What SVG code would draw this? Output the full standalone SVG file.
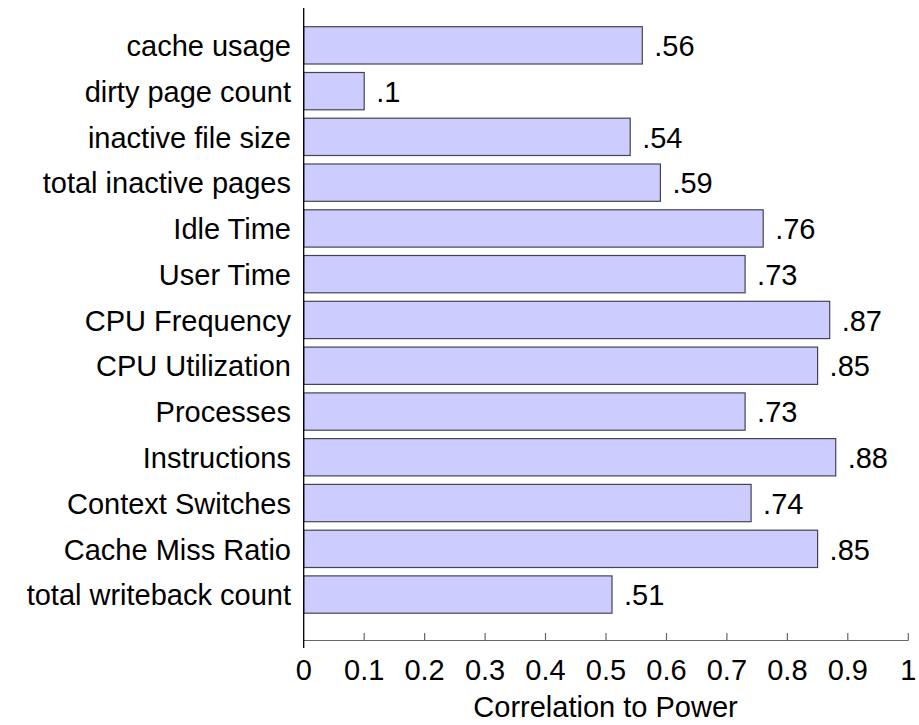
<svg xmlns="http://www.w3.org/2000/svg" width="919" height="725" viewBox="0 0 919 725">
<style>
text{font-family:"Liberation Sans",Arial,sans-serif;font-size:29px;fill:#000}
.lab{text-anchor:end}
.tick{text-anchor:middle}
.bar rect{fill:#ccccff;stroke:#444455;stroke-width:1.2}
.tk{stroke:#666;stroke-width:1.2}
</style>
<rect width="919" height="725" fill="#fff"/>
<g id="bars" class="bar">
<g id="n0"><rect x="303.7" y="26.7" width="338.6" height="37.3"/><text x="654.3" y="56">.56</text></g>
<g id="n1"><rect x="303.7" y="72.5" width="60.5" height="37.3"/><text x="376.2" y="101.8">.1</text></g>
<g id="n2"><rect x="303.7" y="118.2" width="326.5" height="37.3"/><text x="642.2" y="147.5">.54</text></g>
<g id="n3"><rect x="303.7" y="164" width="356.7" height="37.3"/><text x="672.4" y="193.3">.59</text></g>
<g id="n4"><rect x="303.7" y="209.8" width="459.5" height="37.3"/><text x="775.2" y="239.1">.76</text></g>
<g id="n5"><rect x="303.7" y="255.5" width="441.4" height="37.3"/><text x="757.1" y="284.8">.73</text></g>
<g id="n6"><rect x="303.7" y="301.3" width="526" height="37.3"/><text x="841.7" y="330.6">.87</text></g>
<g id="n7"><rect x="303.7" y="347.1" width="513.9" height="37.3"/><text x="829.6" y="376.4">.85</text></g>
<g id="n8"><rect x="303.7" y="392.9" width="441.4" height="37.3"/><text x="757.1" y="422.2">.73</text></g>
<g id="n9"><rect x="303.7" y="438.6" width="532" height="37.3"/><text x="847.7" y="467.9">.88</text></g>
<g id="n10"><rect x="303.7" y="484.4" width="447.4" height="37.3"/><text x="763.1" y="513.7">.74</text></g>
<g id="n11"><rect x="303.7" y="530.2" width="513.9" height="37.3"/><text x="829.6" y="559.5">.85</text></g>
<g id="n12"><rect x="303.7" y="575.9" width="308.3" height="37.3"/><text x="624" y="605.2">.51</text></g>
</g>
<g id="labels" class="lab">
<text class="lab" x="291" y="56">cache usage</text>
<text class="lab" x="291" y="101.8">dirty page count</text>
<text class="lab" x="291" y="147.5">inactive file size</text>
<text class="lab" x="291" y="193.3">total inactive pages</text>
<text class="lab" x="291" y="239.1">Idle Time</text>
<text class="lab" x="291" y="284.8">User Time</text>
<text class="lab" x="291" y="330.6">CPU Frequency</text>
<text class="lab" x="291" y="376.4">CPU Utilization</text>
<text class="lab" x="291" y="422.2">Processes</text>
<text class="lab" x="291" y="467.9">Instructions</text>
<text class="lab" x="291" y="513.7">Context Switches</text>
<text class="lab" x="291" y="559.5">Cache Miss Ratio</text>
<text class="lab" x="291" y="605.2">total writeback count</text>
</g>
<g id="axes">
<line x1="303.7" y1="640.5" x2="908.3" y2="640.5" stroke="#666" stroke-width="1.2"/>
<g class="tk">
<line x1="364.2" y1="633" x2="364.2" y2="640.5"/>
<line x1="424.6" y1="633" x2="424.6" y2="640.5"/>
<line x1="485.1" y1="633" x2="485.1" y2="640.5"/>
<line x1="545.5" y1="633" x2="545.5" y2="640.5"/>
<line x1="606" y1="633" x2="606" y2="640.5"/>
<line x1="666.5" y1="633" x2="666.5" y2="640.5"/>
<line x1="726.9" y1="633" x2="726.9" y2="640.5"/>
<line x1="787.4" y1="633" x2="787.4" y2="640.5"/>
<line x1="847.8" y1="633" x2="847.8" y2="640.5"/>
<line x1="908.3" y1="633" x2="908.3" y2="640.5"/>
</g>
<line x1="303.7" y1="8" x2="303.7" y2="648" stroke="#000" stroke-width="1.3"/>
<text class="tick" x="303.7" y="680">0</text>
<text class="tick" x="364.2" y="680">0.1</text>
<text class="tick" x="424.6" y="680">0.2</text>
<text class="tick" x="485.1" y="680">0.3</text>
<text class="tick" x="545.5" y="680">0.4</text>
<text class="tick" x="606" y="680">0.5</text>
<text class="tick" x="666.5" y="680">0.6</text>
<text class="tick" x="726.9" y="680">0.7</text>
<text class="tick" x="787.4" y="680">0.8</text>
<text class="tick" x="847.8" y="680">0.9</text>
<text class="tick" x="908.3" y="680">1</text>
<text class="tick" x="605.5" y="717">Correlation to Power</text>
</g>
</svg>
